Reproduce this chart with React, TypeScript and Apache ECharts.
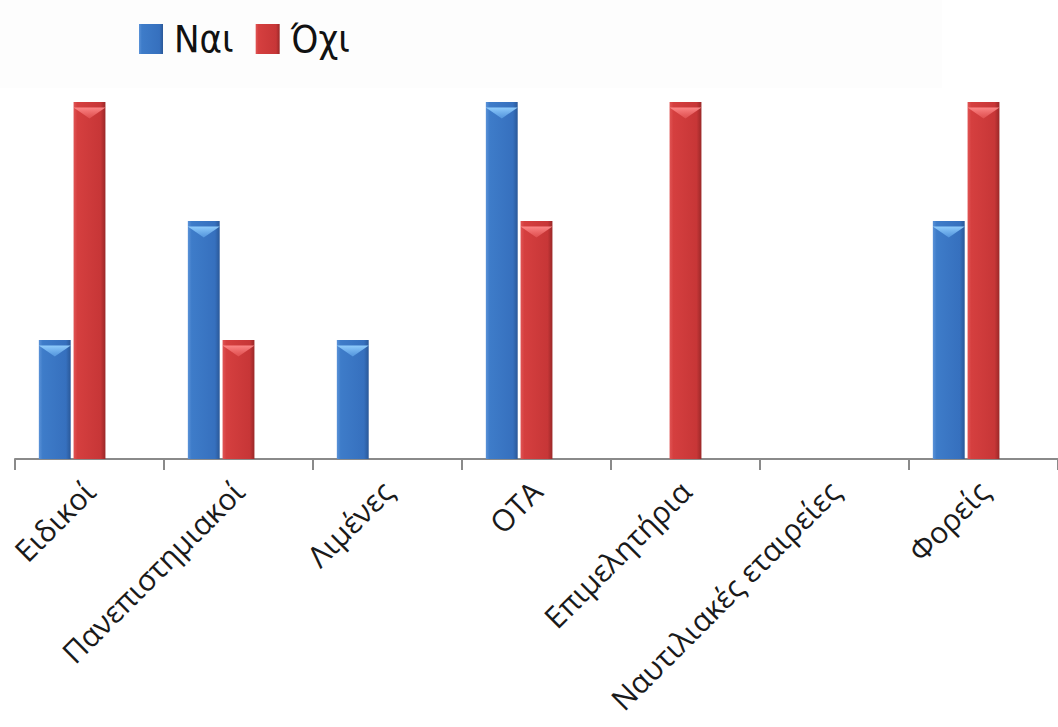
import React, { useEffect, useRef } from "react";
import * as echarts from "echarts";

const categories = ["Ειδικοί", "Πανεπιστημιακοί", "Λιμένες", "ΟΤΑ", "Επιμελητήρια", "Ναυτιλιακές εταιρείες", "Φορείς"];
const seriesNames = ["Ναι", "Όχι"];
const yesValues = [1, 2, 1, 3, 0, 0, 2];
const noValues = [3, 1, 0, 2, 3, 0, 3];
const emptyValues = [null, null, null, null, null, null, null];

const grad = (c0: string, c1: string, c2: string, c3: string) =>
  new echarts.graphic.LinearGradient(0, 0, 1, 0, [
    { offset: 0, color: c0 },
    { offset: 0.12, color: c1 },
    { offset: 0.85, color: c2 },
    { offset: 1, color: c3 },
  ]);

const capData = (vals: (number | null)[]) => vals.map((v) => (v ? v : "-"));

export default function App() {
  const ref = useRef<HTMLDivElement>(null);
  useEffect(() => {
    if (!ref.current) return;
    const chart = echarts.init(ref.current, null, { renderer: "svg" });
    const blue = grad("#5a92d8", "#3e7cc9", "#3670be", "#2a5898");
    const red = grad("#e05454", "#d53f3f", "#c73637", "#9a2828");
    const capBlue = new echarts.graphic.LinearGradient(0, 0, 0, 1, [
      { offset: 0, color: "rgba(150,210,255,0.95)" },
      { offset: 1, color: "rgba(110,180,245,0.5)" },
    ]);
    const capRed = new echarts.graphic.LinearGradient(0, 0, 0, 1, [
      { offset: 0, color: "rgba(255,140,140,0.95)" },
      { offset: 1, color: "rgba(240,100,100,0.5)" },
    ]);
    const tri = "path://M0,0 L10,0 L5,4 Z";
    const capCommon = {
      type: "pictorialBar",
      barGap: "9%",
      barCategoryGap: "32%",
      symbol: tri,
      symbolPosition: "end",
      symbolSize: ["100%", 11],
      symbolOffset: [0, "50%"],
      z: 5,
    };
    chart.setOption({
      animation: false,
      backgroundColor: "#ffffff",
      graphic: [
        { type: "rect", left: 0, top: 0, shape: { width: 942, height: 88 }, style: { fill: "#fdfdfd" }, z: -10 },
      ],
      legend: {
        data: seriesNames,
        left: 134,
        top: 15,
        itemWidth: 24,
        itemHeight: 30,
        itemGap: 22,
        icon: "rect",
        textStyle: {
          fontFamily: "DejaVu Sans Condensed, Liberation Sans Narrow, sans-serif",
          fontSize: 38,
          color: "#111",
          padding: [0, 0, 0, 6],
        },
      },
      grid: { left: 15, right: 0, top: 102, bottom: 268, containLabel: false },
      xAxis: {
        type: "category",
        data: categories,
        axisLine: { lineStyle: { color: "#8a8a8a", width: 2 } },
        axisTick: { show: true, length: 11, lineStyle: { color: "#8a8a8a", width: 2 } },
        axisLabel: {
          interval: 0,
          rotate: 45,
          margin: 27,
          fontSize: 30,
          fontFamily: "Open Sans, sans-serif",
          color: "#1a1a1a",
        },
      },
      yAxis: { type: "value", min: 0, max: 3, show: false, splitLine: { show: false } },
      series: [
        {
          name: seriesNames[0],
          type: "bar",
          data: yesValues,
          barGap: "9%",
          barCategoryGap: "32%",
          itemStyle: { color: blue },
        },
        {
          name: seriesNames[1],
          type: "bar",
          data: noValues,
          itemStyle: { color: red },
        },
        {
          name: "Σειρά 3",
          type: "bar",
          data: emptyValues,
          itemStyle: { color: "#9bbb59" },
        },
        { ...capCommon, name: "cap1", data: capData(yesValues), itemStyle: { color: capBlue } },
        { ...capCommon, name: "cap2", data: capData(noValues), itemStyle: { color: capRed } },
        { ...capCommon, name: "cap3", data: capData(emptyValues), itemStyle: { color: capRed } },
      ],
    });
    return () => chart.dispose();
  }, []);
  return <div ref={ref} style={{ position: "fixed", left: 0, top: 0, width: 1058, height: 727 }} />;
}
